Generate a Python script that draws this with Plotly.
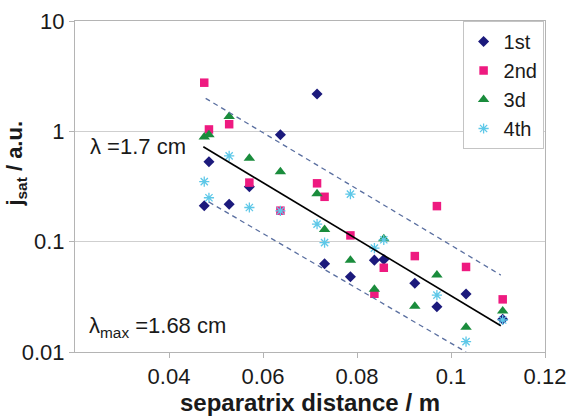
import plotly.graph_objects as go

# ---- data ----
x_1st = [0.0485, 0.0715, 0.0637, 0.0571, 0.0475, 0.0528, 0.0837, 0.0857, 0.0731, 0.0786, 0.0923, 0.1032, 0.0970, 0.1110]
y_1st = [0.53, 2.18, 0.93, 0.315, 0.212, 0.218, 0.068, 0.069, 0.063, 0.048, 0.042, 0.0335, 0.0257, 0.0198]

x_2nd = [0.0475, 0.0528, 0.0485, 0.0571, 0.0715, 0.0731, 0.0637, 0.0786, 0.0970, 0.0923, 0.0857, 0.1032, 0.0837, 0.1110]
y_2nd = [2.76, 1.16, 1.04, 0.343, 0.338, 0.255, 0.191, 0.114, 0.21, 0.074, 0.058, 0.059, 0.0337, 0.030]

x_3d = [0.0528, 0.0475, 0.0485, 0.0571, 0.0637, 0.0715, 0.0731, 0.0857, 0.0786, 0.0970, 0.0837, 0.1110, 0.0923, 0.1032]
y_3d = [1.36, 0.89, 0.93, 0.57, 0.43, 0.272, 0.129, 0.106, 0.068, 0.050, 0.037, 0.0235, 0.026, 0.0168]

x_4th = [0.0528, 0.0475, 0.0485, 0.0571, 0.0637, 0.0786, 0.0715, 0.0731, 0.0857, 0.0837, 0.0970, 0.1110, 0.1032]
y_4th = [0.60, 0.35, 0.25, 0.204, 0.19, 0.27, 0.144, 0.098, 0.104, 0.0875, 0.0328, 0.0195, 0.0124]

fit_x = [0.0473, 0.1106]
fit_y = [0.725, 0.0173]
upper_x = [0.0478, 0.1106]
upper_y = [1.99, 0.0498]
lower_x = [0.0485, 0.1032]
lower_y = [0.2286, 0.0100]

x_tickvals = [0.04, 0.06, 0.08, 0.10, 0.12]
x_ticktext = ["0.04", "0.06", "0.08", "0.1", "0.12"]
y_tickvals = [0.01, 0.1, 1, 10]
y_ticktext = ["0.01", "0.1", "1", "10"]

FONT = "Liberation Sans, Arial, sans-serif"
TXT = "#1a1a1a"
FRAME = "#b4b4b4"
DASH_COL = "#5a6fa0"

fig = go.Figure()

fig.add_trace(go.Scatter(x=x_1st, y=y_1st, mode="markers", name="1st",
                         marker=dict(symbol="diamond", size=8.5, color="#1c1a7c", line=dict(width=0))))
fig.add_trace(go.Scatter(x=x_2nd, y=y_2nd, mode="markers", name="2nd",
                         marker=dict(symbol="square", size=8.5, color="#ee1a80", line=dict(width=0))))
fig.add_trace(go.Scatter(x=x_3d, y=y_3d, mode="markers", name="3d",
                         marker=dict(symbol="triangle-up", size=10, color="#1a8c3c", line=dict(width=0))))
fig.add_trace(go.Scatter(x=x_4th, y=y_4th, mode="markers", name="4th",
                         marker=dict(symbol="asterisk-open", size=8.5, color="#5ec8e8",
                                     line=dict(width=1.3, color="#5ec8e8"))))

fig.add_trace(go.Scatter(x=upper_x, y=upper_y, mode="lines", showlegend=False, hoverinfo="skip",
                         line=dict(color=DASH_COL, width=1.3, dash="5px,4px")))
fig.add_trace(go.Scatter(x=lower_x, y=lower_y, mode="lines", showlegend=False, hoverinfo="skip",
                         line=dict(color=DASH_COL, width=1.3, dash="5px,4px")))
fig.add_trace(go.Scatter(x=fit_x, y=fit_y, mode="lines", showlegend=False, hoverinfo="skip",
                         line=dict(color="black", width=1.6)))

fig.update_layout(
    width=573, height=419,
    margin=dict(l=75, r=28, t=21, b=67),
    paper_bgcolor="white", plot_bgcolor="white",
    font=dict(family=FONT, size=21, color=TXT),
    showlegend=True,
    legend=dict(x=0.997, y=1, xanchor="right", yanchor="top",
                bgcolor="white", bordercolor="#c4c4c4", borderwidth=1,
                font=dict(size=20, color=TXT), itemwidth=30,
                tracegroupgap=0),
    xaxis=dict(range=[0.02, 0.12], tickvals=x_tickvals, ticktext=x_ticktext,
               showgrid=False, zeroline=False, automargin=False,
               showline=True, linecolor=FRAME, linewidth=1, mirror=True,
               ticks="outside", ticklen=5, tickcolor=FRAME,
               tickfont=dict(size=22, color=TXT),
               title=dict(text="<b>separatrix distance / m</b>", font=dict(size=24, color=TXT), standoff=2)),
    yaxis=dict(type="log", range=[-2, 1], tickvals=y_tickvals, ticktext=y_ticktext,
               showgrid=True, gridcolor="#cfcfcf", gridwidth=1, zeroline=False, automargin=False,
               showline=True, linecolor=FRAME, linewidth=1, mirror=True,
               ticks="outside", ticklen=5, tickcolor=FRAME,
               tickfont=dict(size=22, color=TXT)),
    annotations=[
        dict(text="<b>j<sub>sat</sub> / a.u.</b>", xref="paper", yref="paper",
             x=-0.125, y=0.57, xanchor="center", yanchor="middle", textangle=-90,
             showarrow=False, font=dict(size=22, color=TXT)),
        dict(text="λ =1.7 cm", xref="paper", yref="paper", x=0.028, y=0.622,
             xanchor="left", yanchor="middle", showarrow=False,
             font=dict(size=22, color=TXT)),
        dict(text="λ<sub>max</sub> =1.68 cm", xref="paper", yref="paper", x=0.026, y=0.075,
             xanchor="left", yanchor="middle", showarrow=False,
             font=dict(size=22, color=TXT)),
    ],
)

fig.write_html("out.html", config={"displayModeBar": False},
               post_script="document.body.style.margin='0';document.body.style.overflow='hidden';")
